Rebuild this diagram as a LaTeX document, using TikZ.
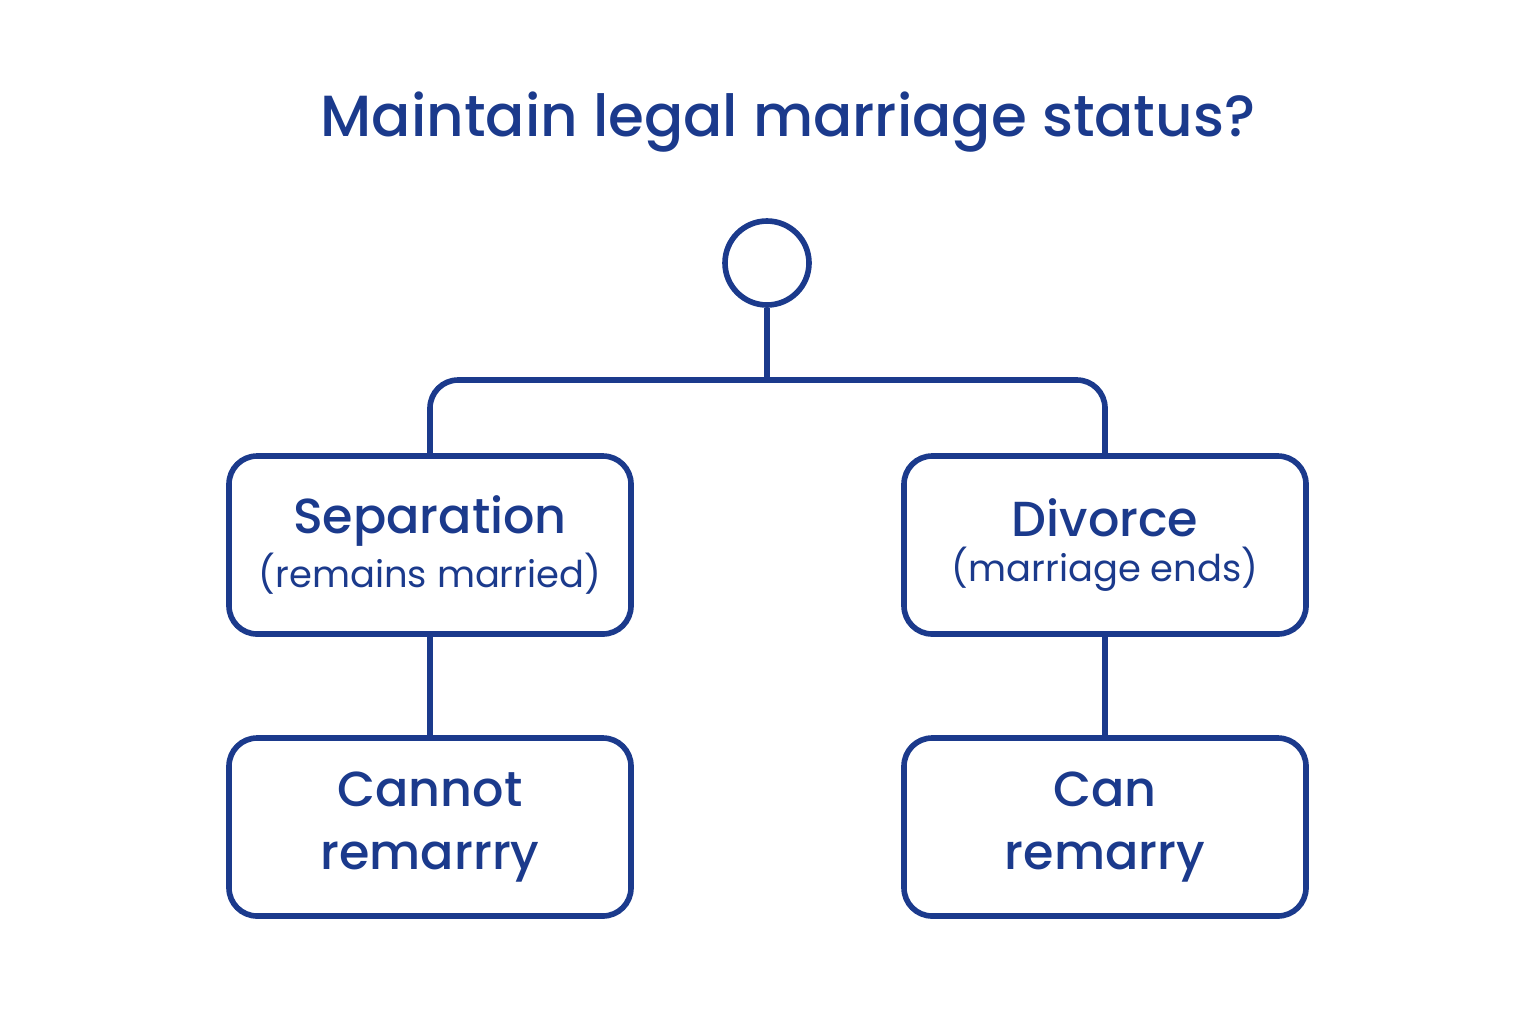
\documentclass[tikz,border=0pt]{standalone}
\usepackage{fontspec}
\setmainfont{Poppins}[BoldFont={Poppins Medium}]
\usetikzlibrary{positioning}
\definecolor{navy}{HTML}{1B3A8C}
\begin{document}
\begin{tikzpicture}[
  box/.style={draw=navy, line width=1.6pt, rounded corners=8pt, minimum width=4.02cm, minimum height=1.78cm, align=center, text=navy},
  link/.style={draw=navy, line width=1.6pt}
]
\useasboundingbox (0,0) rectangle (15.36,-10.24);
\node[text=navy, font=\fontsize{16.5}{20}\selectfont\bfseries] (title) at (7.88,-1.22) {Maintain legal marriage status?};
\node[draw=navy, line width=1.6pt, circle, minimum size=0.84cm, inner sep=0] (root) at (7.67,-2.63) {};
% second level
\node[box] (sep) at (4.30,-5.45) {{\fontsize{14}{17}\selectfont\bfseries Separation}\\[1pt]{\fontsize{10.5}{13}\selectfont (remains married)}};
\node[box] (div) at (11.05,-5.45) {{\fontsize{14}{17}\selectfont\bfseries Divorce}\\[1pt]{\fontsize{10.5}{13}\selectfont (marriage ends)}};
% third level
\node[box, font=\fontsize{14}{18}\selectfont\bfseries] (cannot) at (4.30,-8.27) {Cannot\\remarrry};
\node[box, font=\fontsize{14}{18}\selectfont\bfseries] (can) at (11.05,-8.27) {Can\\remarry};
\coordinate (fork) at (7.67,-3.80);
\draw[link] (root.south) -- (fork);
\draw[link, rounded corners=8pt] (sep.north) |- (fork) -| (div.north);
\draw[link] (sep) -- (cannot);
\draw[link] (div) -- (can);
\end{tikzpicture}
\end{document}
